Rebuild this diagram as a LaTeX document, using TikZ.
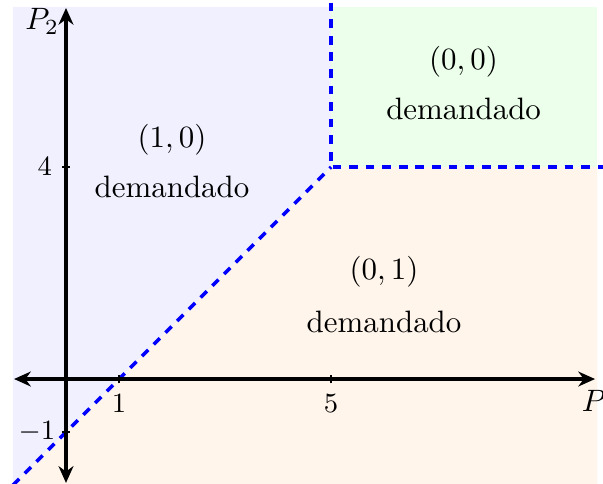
\documentclass[tikz,border=0pt]{standalone}
\usetikzlibrary{arrows.meta}
\begin{document}
\begin{tikzpicture}[
  axis/.style={line width=2pt,{Stealth[length=9pt,width=8pt]}-{Stealth[length=9pt,width=8pt]}},
  bound/.style={blue,line width=1.9pt,dash pattern=on 4.7pt off 4.2pt},
  tickmark/.style={line width=0.6pt},
  reglabel/.style={scale=1.66},
  ticklabel/.style={scale=1.66,font=\small},
  axlabel/.style={scale=1.66}
]
\useasboundingbox (-1.245,-1.98) rectangle (10.13,7.15);
\fill[white] (-1.245,-1.98) rectangle (10.13,7.15);
% regions
\fill[blue!6] (-1,-2) -- (5,4) -- (5,7.02) -- (-1,7.02) -- cycle;
\fill[green!8] (5,4) -- (10.02,4) -- (10.02,7.02) -- (5,7.02) -- cycle;
\fill[orange!8] (-1,-2) -- (10.02,-2) -- (10.02,4) -- (5,4) -- cycle;
% boundaries
\coordinate (A) at (-1,-2);
\coordinate (K) at (5,4);
\coordinate (T) at (5,7.1);
\coordinate (R) at (10.2,4);
\draw[bound] (A) -- (K);
\draw[bound] (T) -- (K) -- (R);
% axes
\coordinate (xl) at (-0.98,0);
\coordinate (xr) at (9.98,0);
\coordinate (yb) at (0,-1.96);
\coordinate (yt) at (0,7.0);
\draw[axis] (xl) -- (xr);
\draw[axis] (yb) -- (yt);
% ticks
\draw[tickmark] (1,-0.08) -- (1,0.08);
\draw[tickmark] (5,-0.08) -- (5,0.08);
\draw[tickmark] (-0.08,4) -- (0.08,4);
\draw[tickmark] (-0.08,-1) -- (0.08,-1);
\node[ticklabel] (t1) at (1,-0.47) {$1$};
\node[ticklabel] (t5) at (5,-0.47) {$5$};
\node[ticklabel] (t4) at (-0.4,4) {$4$};
\node[ticklabel] (tm1) at (-0.55,-1) {$-1$};
% axis labels
\node[axlabel] (P1) at (10.05,-0.45) {$P_1$};
\node[axlabel] (P2) at (-0.45,6.74) {$P_2$};
% region labels
\node[reglabel] (r10) at (2,4.51) {$(1,0)$};
\node[reglabel] (r10d) at (2,3.62) {demandado};
\node[reglabel] (r00) at (7.5,5.98) {$(0,0)$};
\node[reglabel] (r00d) at (7.5,5.10) {demandado};
\node[reglabel] (r01) at (6,2.02) {$(0,1)$};
\node[reglabel] (r01d) at (6,1.08) {demandado};
\end{tikzpicture}
\end{document}
